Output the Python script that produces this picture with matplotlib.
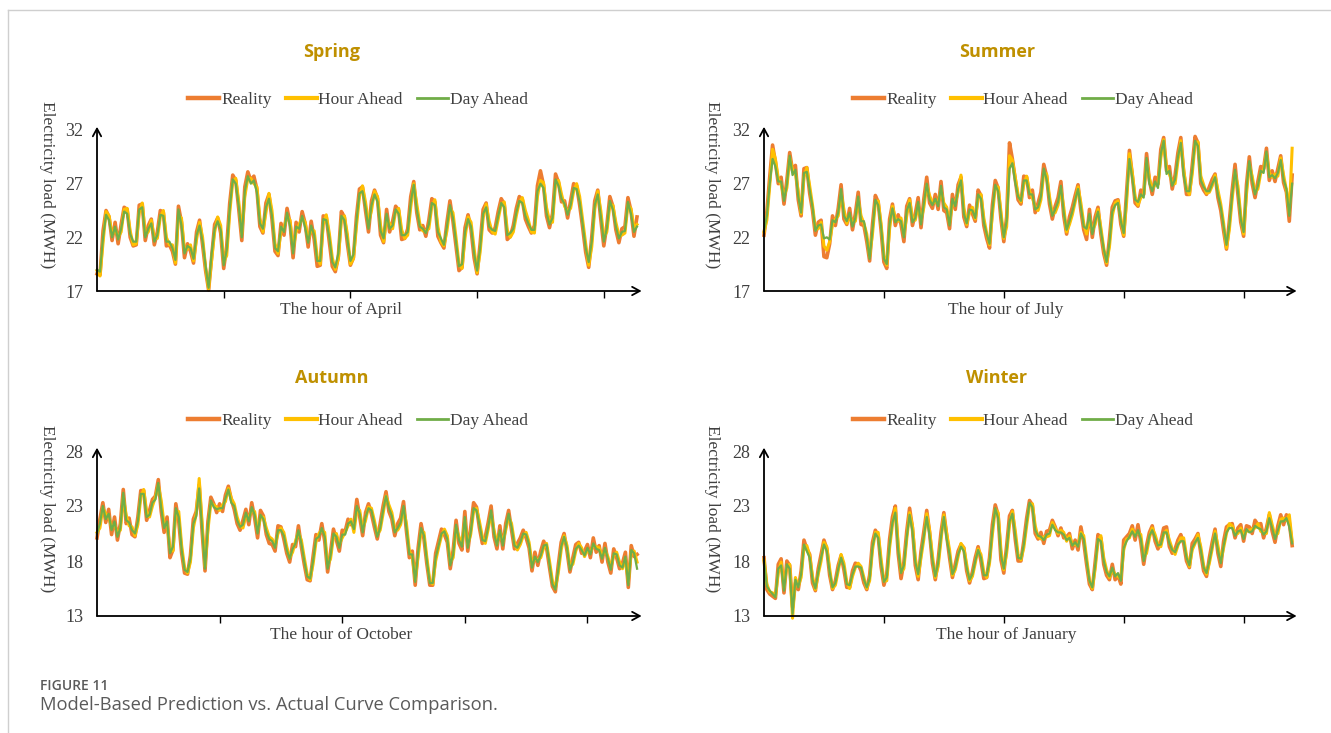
import numpy as np
import matplotlib
matplotlib.use('Agg')
import matplotlib.pyplot as plt
from matplotlib.lines import Line2D

# ---------------- data (4-hour samples) ----------------
series_names = ['Reality', 'Hour Ahead', 'Day Ahead']
seasons = ['Spring', 'Summer', 'Autumn', 'Winter']
months = ['April', 'July', 'October', 'January']
month_hours = [720, 744, 744, 744]
step_hours = 4
week_ticks = [168, 336, 504, 672]

spring_real = [18.6,18.5,22.6,24.5,23.9,21.7,23.4,21.4,23.2,24.8,
               24.6,22.0,21.2,21.3,25.0,25.1,21.7,23.1,23.7,21.3,
               22.5,24.5,24.3,21.2,21.3,20.7,19.5,24.9,23.4,20.1,
               21.4,20.7,19.6,22.5,23.6,21.3,18.9,17.1,20.2,23.2,
               23.8,22.4,19.1,21.2,25.2,27.8,27.3,24.6,21.7,26.7,
               28.1,27.3,27.7,26.5,23.0,22.4,25.2,26.0,23.7,20.7,
               20.3,23.3,22.2,24.7,23.3,20.1,23.4,22.5,24.4,23.3,
               21.1,23.5,21.8,19.3,19.4,24.0,23.9,21.6,19.3,18.8,
               20.2,24.4,23.9,21.4,19.4,20.1,23.9,26.5,26.7,24.5,
               22.5,25.4,26.4,25.6,22.2,21.5,24.6,22.5,23.5,24.9,
               24.5,21.8,21.9,22.8,25.8,27.2,24.3,22.7,23.1,22.1,
               23.6,25.6,25.3,22.1,21.5,21.0,23.4,25.4,23.5,21.2,
               18.9,19.2,22.9,24.1,22.7,20.1,18.6,21.4,24.6,25.2,
               22.7,22.4,22.9,24.4,25.6,25.1,21.8,22.1,23.1,24.7,
               25.8,25.5,23.7,23.0,22.4,23.1,26.8,28.2,26.9,24.0,
               22.9,24.2,27.9,27.1,25.3,25.4,23.8,25.4,27.0,26.8,
               25.0,22.9,20.6,19.2,22.0,25.4,26.4,23.7,21.2,23.1,
               25.8,24.9,22.7,21.5,22.8,23.0,25.7,24.5,22.1,23.9]
spring_hour = [18.9,18.4,21.5,24.4,24.0,22.2,22.8,22.0,22.5,24.6,
               24.7,22.6,21.3,21.4,24.3,25.2,22.3,22.5,23.6,21.9,
               21.9,23.9,24.5,22.0,21.3,21.3,19.6,24.0,23.8,20.8,
               20.9,21.3,19.8,21.8,23.4,22.0,19.2,17.2,19.9,22.5,
               23.9,23.1,19.7,20.3,24.3,27.2,27.5,25.3,22.3,25.8,
               27.5,27.5,27.0,26.7,23.8,22.5,24.3,26.1,24.5,21.4,
               20.5,22.6,22.9,24.0,23.6,20.9,22.5,23.2,23.8,23.4,
               21.8,22.7,22.6,20.2,19.5,23.2,24.1,22.4,20.1,19.0,
               20.0,23.6,24.0,22.3,19.5,20.0,23.0,25.8,26.8,25.3,
               23.3,24.5,26.3,25.8,23.1,21.6,23.7,23.3,22.8,24.4,
               24.7,22.7,21.9,22.2,24.8,27.0,25.1,23.3,22.6,22.6,
               22.8,24.9,25.5,23.0,21.6,21.2,22.6,24.7,24.3,22.0,
               19.5,19.1,22.0,23.9,23.4,21.0,18.7,20.6,23.8,25.1,
               23.5,22.5,22.3,23.7,25.1,25.3,22.7,22.0,22.5,24.0,
               25.3,25.7,24.5,23.6,22.5,22.4,25.8,27.3,27.1,24.8,
               23.5,23.4,27.0,27.3,26.0,24.9,24.4,24.7,26.3,27.0,
               25.8,23.6,21.4,19.4,21.1,24.6,26.3,24.5,22.0,22.5,
               25.0,25.0,23.4,22.2,22.2,22.4,25.0,24.7,22.9,23.2]
spring_day = [19.0,18.8,22.0,24.1,23.6,22.0,23.0,21.8,22.8,24.4,
              24.2,22.3,21.6,21.6,24.6,24.8,22.0,22.8,23.3,21.6,
              22.2,24.1,24.0,21.6,21.6,21.0,19.9,24.6,23.1,20.5,
              21.2,21.0,20.0,22.2,23.1,21.6,19.3,17.3,20.5,22.8,
              23.5,22.7,19.4,20.8,24.7,27.4,27.0,24.9,22.0,26.3,
              27.7,27.0,27.3,26.2,23.3,22.8,24.8,25.6,24.0,21.0,
              20.7,23.0,22.5,24.3,23.0,20.5,23.0,22.8,24.0,22.9,
              21.5,23.1,22.2,19.8,19.8,23.7,23.6,22.0,19.7,19.2,
              20.5,24.0,23.6,21.8,19.8,20.4,23.5,26.1,26.3,24.8,
              22.8,25.0,26.0,25.3,22.6,21.9,24.2,22.8,23.1,24.6,
              24.2,22.2,22.2,22.5,25.3,26.9,24.6,23.0,22.8,22.4,
              23.2,25.2,25.0,22.5,21.9,21.3,23.0,25.0,23.8,21.6,
              19.3,19.5,22.5,23.7,23.0,20.5,18.9,21.0,24.2,24.8,
              23.0,22.7,22.6,24.0,25.2,24.8,22.2,22.4,22.8,24.3,
              25.4,25.2,24.0,23.3,22.7,22.7,26.3,27.0,26.6,24.3,
              23.2,23.8,27.4,26.8,25.6,25.1,24.1,25.0,26.6,26.5,
              25.3,23.2,21.0,19.7,21.6,25.0,26.0,24.0,21.6,22.8,
              25.4,24.6,23.0,21.9,22.5,22.6,25.3,24.2,22.5,23.0]

summer_real = [22.2,24.4,27.6,30.6,29.0,27.0,27.6,25.1,27.3,29.9,
               28.2,28.7,25.5,24.0,28.4,28.5,26.1,24.5,22.2,23.4,
               23.6,20.2,20.1,21.4,24.0,23.1,24.7,26.9,23.7,23.2,
               24.7,22.7,24.2,26.2,23.2,23.1,21.6,19.8,23.2,25.9,
               25.3,22.7,19.7,19.1,23.7,25.1,23.1,24.1,23.2,21.6,
               24.9,25.6,23.1,24.2,25.7,22.9,25.6,27.6,25.2,24.7,
               26.0,24.6,27.2,24.5,24.3,22.8,26.0,24.6,26.9,27.6,
               23.9,23.0,25.0,24.2,23.5,26.4,25.9,23.1,21.9,21.0,
               25.0,27.3,26.6,23.7,21.6,23.9,30.8,29.3,27.4,25.5,
               25.1,27.7,27.6,25.7,26.4,24.3,25.2,26.2,28.8,27.7,
               25.1,23.7,24.9,25.7,27.2,24.0,22.3,23.9,24.8,25.9,
               26.9,24.5,22.7,21.8,24.6,22.0,23.9,24.8,22.3,20.5,
               19.4,21.9,24.8,25.4,25.5,23.2,22.1,26.2,30.1,27.8,
               25.2,24.9,26.4,26.0,29.8,27.3,26.0,27.6,27.0,30.2,
               31.3,28.2,28.6,26.5,27.8,29.9,31.3,28.1,26.0,26.0,
               28.7,31.4,30.8,27.0,26.4,26.0,26.7,27.4,27.9,25.7,
               24.5,22.6,20.9,23.5,26.4,28.8,26.0,23.4,22.1,26.9,
               29.5,27.0,25.7,27.2,28.6,28.4,30.3,27.3,28.2,27.2,
               28.4,29.6,27.1,26.2,23.5,27.8]
summer_hour = [22.5,23.6,26.8,30.2,29.3,27.5,26.9,25.8,26.6,29.4,
               28.3,28.0,26.3,24.2,27.6,28.5,26.8,25.0,22.8,22.8,
               23.4,21.2,20.8,21.6,23.2,23.7,24.0,26.1,24.6,23.3,
               24.0,23.4,23.5,25.5,24.0,23.3,22.3,20.2,22.3,25.2,
               25.4,23.3,20.3,19.4,22.8,24.9,23.8,23.5,23.8,22.2,
               24.0,25.5,23.8,23.6,25.0,23.6,24.8,26.8,25.9,25.2,
               25.3,25.2,26.4,25.2,24.8,23.3,25.2,25.2,26.2,27.8,
               24.8,23.2,24.3,24.8,23.7,25.6,26.0,23.8,22.4,21.3,
               24.1,26.6,26.7,24.4,21.9,23.0,29.6,29.2,27.6,26.0,
               25.3,26.9,27.7,26.3,25.7,24.8,24.5,25.5,28.0,27.9,
               25.8,24.2,24.3,25.0,26.5,24.8,22.5,23.2,24.1,25.3,
               26.7,25.2,23.3,22.3,23.9,22.6,23.2,24.6,22.9,21.0,
               19.6,21.1,24.0,25.2,25.4,23.8,22.2,25.2,29.8,28.0,
               25.8,25.0,25.7,26.0,29.0,27.5,26.5,26.9,26.9,29.4,
               31.1,28.4,27.9,27.1,27.0,29.1,31.0,28.3,26.5,26.0,
               27.9,30.7,30.9,27.7,26.9,26.1,26.2,26.8,27.8,26.4,
               25.1,23.3,21.0,22.7,25.6,28.0,26.8,24.0,22.3,26.0,
               28.8,27.7,26.2,26.5,28.0,28.3,29.8,28.0,27.6,27.9,
               27.7,29.4,27.8,26.4,24.3,30.3]
summer_day = [22.6,24.0,27.0,29.3,28.6,27.2,27.2,25.4,26.9,29.6,
              27.8,28.3,25.8,24.3,28.0,28.1,26.4,24.8,22.6,23.1,
              23.2,21.9,22.0,21.8,23.6,23.4,24.3,26.5,24.0,23.5,
              24.3,23.0,23.8,25.8,23.5,23.5,22.0,20.0,22.8,25.5,
              25.0,23.0,20.0,19.5,23.3,24.7,23.4,23.7,23.5,22.0,
              24.5,25.2,23.4,23.8,25.3,23.2,25.2,27.0,25.5,25.0,
              25.6,24.9,26.8,24.8,24.6,23.1,25.6,24.9,26.5,27.3,
              24.2,23.3,24.6,24.5,23.8,26.0,25.6,23.4,22.3,21.4,
              24.6,26.9,26.3,24.0,22.0,23.5,28.4,28.9,27.1,25.8,
              25.4,27.3,27.3,26.0,26.0,24.6,24.8,25.8,28.4,27.4,
              25.4,24.0,24.6,25.3,26.8,24.3,22.7,23.5,24.4,25.5,
              26.5,24.8,23.0,22.8,24.2,22.3,23.5,24.4,22.6,20.9,
              19.7,21.5,24.4,25.0,25.2,23.5,22.4,25.8,29.3,27.5,
              25.5,25.3,26.0,25.7,29.4,27.0,26.3,27.2,26.6,29.8,
              31.0,27.9,28.2,26.8,27.4,29.5,30.8,27.8,26.3,26.3,
              28.3,31.0,30.5,27.3,26.7,26.3,26.3,27.0,27.6,26.0,
              24.8,23.0,21.3,23.1,26.0,28.3,26.3,23.7,22.5,26.5,
              29.1,27.3,26.0,26.8,28.2,28.0,30.0,27.6,27.8,27.5,
              28.0,29.2,27.4,26.5,24.0,27.0]

autumn_real = [20.1,21.8,23.3,21.5,22.7,20.4,22.0,19.9,21.4,24.5,
               21.4,21.9,20.4,20.2,22.0,24.4,24.4,21.7,22.6,23.6,
               23.9,25.4,22.5,20.6,22.0,18.3,19.0,23.2,21.6,18.7,
               16.9,16.8,18.5,21.8,22.5,24.9,20.7,17.1,21.6,23.8,
               23.2,22.4,23.2,22.5,24.0,24.8,23.6,22.7,21.4,20.8,
               21.7,22.7,21.3,23.3,21.9,20.1,22.6,22.1,20.4,19.6,
               19.5,18.9,21.2,21.1,20.0,18.7,17.9,19.5,19.3,21.2,
               19.3,17.7,16.3,16.2,18.4,20.4,19.9,21.4,19.8,17.0,
               18.8,20.9,19.9,18.9,20.8,20.7,21.8,21.3,21.3,23.6,
               22.0,20.3,22.4,23.2,22.3,21.1,20.0,21.4,23.0,24.3,
               22.5,21.8,20.3,21.4,21.9,23.4,20.7,18.3,18.9,15.8,
               19.2,21.4,20.0,17.7,15.8,15.8,18.7,19.8,20.9,20.4,
               19.7,17.3,19.0,21.7,19.6,19.0,22.5,18.9,21.0,23.3,
               22.9,21.0,19.6,20.2,21.5,23.0,20.2,19.1,21.2,19.1,
               21.4,22.6,20.8,19.1,19.6,20.1,20.8,20.1,19.2,17.1,
               18.8,17.6,18.9,19.8,19.2,17.4,15.7,15.2,17.6,19.7,
               20.5,18.9,17.0,18.3,19.5,19.7,18.7,18.9,19.5,18.3,
               20.1,18.8,19.4,17.9,19.6,17.9,16.9,19.1,18.3,17.3,
               17.8,18.8,15.6,19.4,18.4,18.6]
autumn_hour = [20.6,21.0,22.8,22.3,22.0,21.1,21.3,20.6,20.8,23.8,
               22.2,21.2,21.1,20.3,21.3,23.8,24.5,22.5,22.0,23.0,
               23.8,24.9,23.5,21.3,21.3,19.2,18.9,22.4,22.5,19.4,
               17.4,16.9,17.9,21.0,22.3,25.5,21.5,17.5,20.8,23.3,
               23.1,22.9,22.6,23.1,23.4,24.6,23.7,23.2,22.0,21.2,
               21.0,22.1,21.9,22.6,22.5,20.8,21.9,22.0,21.0,20.2,
               20.0,19.4,20.5,21.0,20.6,19.3,18.3,18.8,19.8,20.6,
               19.9,18.3,16.8,16.3,17.7,19.7,20.5,20.8,20.6,17.6,
               18.2,20.2,20.5,19.5,20.1,20.6,21.2,21.8,20.6,22.6,
               22.6,20.9,21.7,22.9,22.8,21.7,20.4,20.8,22.3,23.9,
               23.1,22.4,20.9,20.8,21.3,22.7,21.4,18.9,18.4,16.3,
               18.4,20.7,20.6,18.3,16.2,15.9,18.0,19.2,20.3,20.9,
               20.3,17.9,18.3,21.0,20.2,19.5,21.7,19.5,20.4,22.5,
               22.8,21.6,20.2,19.6,20.9,22.3,20.8,19.6,20.6,19.7,
               20.8,22.0,21.4,19.7,19.0,19.5,20.3,20.6,19.7,17.7,
               18.2,18.1,18.3,19.2,19.6,18.0,16.2,15.5,16.9,19.0,
               20.3,19.4,17.5,17.7,18.9,19.6,19.2,18.4,19.0,18.8,
               19.4,19.3,19.2,18.4,19.0,18.4,17.4,18.5,18.8,17.9,
               17.3,18.2,16.1,18.8,18.9,17.9]
autumn_day = [20.5,21.4,23.0,21.8,22.3,20.8,21.6,20.2,21.0,24.2,
              21.7,21.5,20.8,20.5,21.6,24.1,24.1,22.0,22.2,23.3,
              23.6,25.1,22.8,21.0,21.6,18.7,19.3,22.8,22.0,19.0,
              17.2,17.0,18.2,21.4,22.1,24.6,21.0,17.3,21.2,23.5,
              22.9,22.7,22.8,22.8,23.7,24.5,23.3,23.0,21.7,21.1,
              21.3,22.4,21.6,22.9,22.2,20.5,22.2,21.8,20.7,20.0,
              19.8,19.2,20.8,20.8,20.3,19.0,18.2,19.1,19.6,20.8,
              19.6,18.0,16.6,16.4,18.0,20.0,20.2,21.0,20.2,17.3,
              18.5,20.5,20.2,19.2,20.4,20.4,21.4,21.6,20.9,23.0,
              22.3,20.6,22.0,22.8,22.6,21.4,20.2,21.0,22.6,23.9,
              22.8,22.1,20.6,21.0,21.5,23.0,21.0,18.6,18.6,16.1,
              18.8,21.0,20.3,18.0,16.0,16.0,18.3,19.4,20.5,20.7,
              20.0,17.6,18.6,21.3,19.9,19.3,22.0,19.2,20.6,22.8,
              22.6,21.3,19.9,19.8,21.1,22.6,20.5,19.4,20.8,19.4,
              21.0,22.3,21.1,19.4,19.2,19.7,20.5,20.4,19.5,17.4,
              18.4,17.9,18.5,19.4,19.5,17.7,15.9,15.4,17.2,19.3,
              20.2,19.2,17.2,17.9,19.1,19.4,19.0,18.5,19.2,18.6,
              19.6,19.1,19.0,18.2,19.2,18.2,17.2,18.7,18.6,17.6,
              17.4,18.4,15.8,19.0,18.7,17.3]

winter_real = [18.3,15.4,15.0,14.8,14.6,17.7,18.2,15.1,18.0,17.6,
               13.8,16.0,15.4,17.1,19.9,19.1,18.6,16.0,15.3,17.3,
               18.6,19.9,19.1,16.7,15.4,16.2,17.6,18.5,17.2,15.6,
               15.6,17.1,17.8,17.7,17.1,16.0,15.4,16.7,19.7,20.8,
               20.3,17.5,15.8,16.8,20.0,22.0,23.0,18.7,16.4,17.9,
               20.7,22.8,21.0,17.6,16.3,18.9,20.7,22.6,20.6,17.8,
               16.3,18.1,20.6,22.4,20.3,18.3,16.5,17.7,18.9,19.5,
               19.2,17.1,16.0,17.0,18.3,19.3,18.0,16.4,16.5,18.3,
               21.3,23.1,22.2,18.1,16.9,19.4,22.1,22.6,20.0,18.0,
               18.0,19.8,21.9,23.5,23.1,20.5,20.0,20.6,19.6,20.7,
               20.8,21.7,21.1,20.3,21.0,20.1,20.2,20.5,19.1,19.9,
               19.0,21.1,19.7,17.7,15.9,15.4,17.9,20.4,20.1,17.7,
               16.7,16.3,17.7,16.3,16.7,15.9,19.9,20.2,20.5,21.2,
               19.9,21.3,19.7,17.7,19.4,20.6,21.2,19.8,19.1,19.8,
               21.0,21.1,19.3,18.7,19.1,19.9,20.4,19.6,18.0,17.4,
               19.6,20.0,20.5,18.7,17.1,16.6,18.3,19.7,20.9,18.7,
               17.5,19.8,21.1,21.3,21.4,20.1,21.0,21.3,19.8,21.2,
               21.1,20.5,21.7,21.3,21.4,20.1,21.0,22.2,20.7,19.7,
               21.2,22.2,21.3,22.2,21.5,19.4]
winter_hour = [18.1,15.9,15.2,15.1,14.8,16.9,17.9,15.6,17.5,17.7,
               12.8,16.5,15.7,16.5,19.3,19.4,18.5,16.6,15.4,16.8,
               18.0,19.7,19.3,17.3,15.5,15.8,17.1,18.6,17.8,16.1,
               15.5,16.6,17.4,17.8,17.5,16.5,15.5,16.2,19.0,20.6,
               20.6,18.2,16.2,16.2,19.2,21.3,22.8,19.6,17.0,17.3,
               20.0,22.4,21.2,18.3,16.6,18.3,20.0,22.3,20.8,18.5,
               16.5,17.5,19.9,22.2,20.5,19.0,16.7,17.2,18.4,19.6,
               19.2,17.7,16.2,16.6,17.8,19.1,18.6,17.0,16.5,17.8,
               20.4,22.7,22.4,19.0,17.2,18.7,21.3,22.5,20.8,18.6,
               18.1,19.2,21.2,23.1,23.2,21.2,20.2,20.0,20.2,20.2,
               20.3,21.5,21.0,20.5,20.8,20.6,19.8,20.3,19.5,19.5,
               19.4,20.6,20.3,18.3,16.3,15.5,17.3,19.8,20.3,18.3,
               17.2,16.5,17.2,16.8,16.6,16.4,19.0,20.0,20.1,20.9,
               20.4,20.6,20.4,18.3,18.7,20.1,21.0,20.4,19.5,19.3,
               20.4,20.8,19.9,19.1,18.6,19.4,20.1,20.1,18.5,17.5,
               19.0,19.6,20.4,19.3,17.6,16.8,17.8,19.1,20.7,19.4,
               18.0,19.2,20.5,21.4,21.2,20.5,20.5,21.0,20.3,20.7,
               20.8,20.9,21.0,21.4,20.7,20.6,20.5,22.4,21.3,20.3,
               20.5,21.8,21.9,21.7,22.2,19.8]
winter_day = [18.0,15.7,15.3,15.0,14.7,17.3,17.6,15.3,17.7,17.3,
              13.2,16.3,15.6,16.8,19.5,18.9,18.3,16.3,15.5,17.0,
              18.3,19.5,18.9,17.0,15.6,16.0,17.3,18.3,17.5,15.9,
              15.8,16.8,17.5,17.5,17.4,16.3,15.6,16.4,19.3,20.5,
              20.1,17.8,16.1,16.5,19.5,21.5,22.4,19.0,16.9,17.6,
              20.2,22.2,20.7,17.9,16.8,18.6,20.3,22.0,20.3,18.1,
              16.6,17.8,20.2,22.0,20.0,18.6,16.8,17.4,18.6,19.3,
              18.9,17.4,16.3,16.8,18.0,19.0,18.3,16.7,16.7,18.0,
              20.8,22.8,21.9,18.5,17.3,19.0,21.6,22.3,20.3,18.3,
              18.2,19.5,21.5,23.3,22.9,20.8,20.3,20.2,19.9,20.4,
              20.5,21.3,20.8,20.6,20.6,20.4,19.9,20.1,19.4,19.7,
              19.3,20.5,20.0,18.0,16.2,15.6,17.6,20.0,19.8,18.0,
              17.0,16.6,17.4,16.6,16.9,16.2,19.2,19.8,20.2,20.7,
              20.2,20.8,20.0,18.0,19.0,20.3,20.8,20.1,19.4,19.5,
              20.6,20.6,19.6,19.0,18.8,19.5,19.8,19.8,18.3,17.6,
              19.2,19.7,20.1,19.0,17.4,16.9,18.0,19.3,20.5,19.0,
              17.8,19.4,20.6,21.0,21.0,20.3,20.7,20.8,20.0,20.9,
              20.6,20.7,21.2,21.0,20.9,20.4,20.7,21.9,21.0,20.0,
              20.8,21.6,21.6,21.9,21.1,19.6]

top_ticks = [17, 22, 27, 32]
bottom_ticks = [13, 18, 23, 28]

# ---------------- styling ----------------
W, H = 1331, 733
COLORS = ['#ED7D31', '#FFC000', '#70AD47']
LWS = [2.6, 2.2, 1.6]
LEG_LWS = [3.2, 3.0, 2.0]
TITLE_COLOR = '#BF9000'
TEXT_COLOR = '#404040'
SERIF = 'Liberation Serif'
SANS = 'Open Sans'

fig = plt.figure(figsize=(W / 100, H / 100), dpi=100)


def fx(x):
    return x / W


def fy(y):
    return 1 - y / H


# page frame lines (left and top)
fig.add_artist(Line2D([fx(8), fx(8)], [fy(10), 0], color='#cfcfcf', lw=1.0))
fig.add_artist(Line2D([fx(8), 1], [fy(10), fy(10)], color='#cfcfcf', lw=1.0))

data = [
    (spring_real, spring_hour, spring_day),
    (summer_real, summer_hour, summer_day),
    (autumn_real, autumn_hour, autumn_day),
    (winter_real, winter_hour, winter_day),
]

layout = [
    dict(box=(97, 130, 640, 291), dx=0, ticks=top_ticks),
    dict(box=(764, 130, 1295, 291), dx=665, ticks=top_ticks),
    dict(box=(97, 451, 640, 616), dx=0, ticks=bottom_ticks),
    dict(box=(764, 451, 1295, 616), dx=665, ticks=bottom_ticks),
]

for i in range(4):
    L = layout[i]
    left, top, right, bottom = L['box']
    ax = fig.add_axes([fx(left), fy(bottom), (right - left) / W, (bottom - top) / H])
    series = data[i]
    for s, name, c, lw in zip(series, series_names, COLORS, LWS):
        hrs = np.arange(len(s)) * step_hours
        ax.plot(hrs, s, color=c, lw=lw, solid_joinstyle='round', clip_on=False, label=name)
    ax.set_xlim(0, month_hours[i])
    ax.set_ylim(L['ticks'][0], L['ticks'][-1])
    ax.set_xticks(week_ticks)
    ax.set_yticks(L['ticks'])
    ax.set_yticklabels([str(t) for t in L['ticks']], family=SERIF, fontsize=13, color=TEXT_COLOR)
    ax.tick_params(axis='x', length=5, width=1.0, direction='out', labelbottom=False, color='black')
    ax.tick_params(axis='y', length=0, pad=10)
    for sp in ax.spines.values():
        sp.set_visible(False)
    ax.patch.set_alpha(0)
    # axis arrows
    ax.annotate('', xy=(1.003, 0), xytext=(0, 0), xycoords='axes fraction',
                arrowprops=dict(arrowstyle='->,head_length=0.55,head_width=0.3', lw=1.3,
                                color='black', shrinkA=0, shrinkB=0), annotation_clip=False)
    ax.annotate('', xy=(0, 1.02), xytext=(0, 0), xycoords='axes fraction',
                arrowprops=dict(arrowstyle='->,head_length=0.55,head_width=0.3', lw=1.3,
                                color='black', shrinkA=0, shrinkB=0), annotation_clip=False)

    dx = L['dx']
    row_y = 0 if i < 2 else 326
    # title
    fig.text(fx(332 + dx), fy(52 + row_y), seasons[i], family=SANS, fontweight='bold',
             fontsize=13, color=TITLE_COLOR, ha='center', va='center')
    # legend
    handles = [Line2D([], [], color=c, lw=lw) for c, lw in zip(COLORS, LEG_LWS)]
    fig.legend(handles, series_names, loc='center',
               bbox_to_anchor=(fx(358 + dx), fy(100 + (row_y - 5 if i >= 2 else 0))),
               ncol=3, frameon=False, handlelength=1.8, handletextpad=0.1,
               columnspacing=0.8, prop={'family': SERIF, 'size': 12.5},
               labelcolor=TEXT_COLOR, borderpad=0)
    # y label
    fig.text(fx(47 + dx), fy(185 + (row_y - 2 if i >= 2 else 0)), 'Electricity load (MWH)',
             family=SERIF, fontsize=12.5, color=TEXT_COLOR, rotation=-90,
             ha='center', va='center')
    # x label
    fig.text(fx(341 + dx), fy(310 + (row_y - 1 if i >= 2 else 0)), 'The hour of ' + months[i],
             family=SERIF, fontsize=12.5, color=TEXT_COLOR, ha='center', va='center')

# caption
fig.text(fx(40), fy(686), 'FIGURE 11', family=SANS, fontsize=10, fontweight='semibold',
         color='#5a5a5a', ha='left', va='center')
fig.text(fx(40), fy(705), 'Model-Based Prediction vs. Actual Curve Comparison.', family=SANS,
         fontsize=13.2, color='#5a5a5a', ha='left', va='center')

fig.savefig('out.png', dpi=100, facecolor='white')
